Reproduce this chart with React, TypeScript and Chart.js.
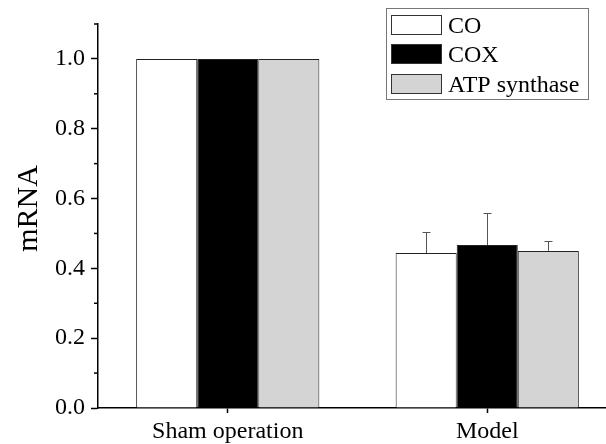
import React, { useEffect, useRef } from "react";
import { Chart, registerables } from "chart.js";

Chart.register(...registerables);

const categories = ["Sham operation", "Model"];
const seriesNames = ["CO", "COX", "ATP synthase"];
const seriesColors = ["#ffffff", "#000000", "#d4d4d4"];
const coValues = [1.0, 0.444];
const coxValues = [1.0, 0.467];
const atpValues = [1.0, 0.45];
const coErrors = [0, 0.06];
const coxErrors = [0, 0.092];
const atpErrors = [0, 0.028];
const yMin = 0;
const yMax = 1.1;
const yStep = 0.1;
const yTitle = "mRNA";

const FONT = "'Liberation Serif', 'Times New Roman', serif";

const errorBarPlugin = {
  id: "errorBars",
  afterDatasetsDraw(chart: any) {
    const ctx = chart.ctx;
    const yScale = chart.scales.y;
    chart.data.datasets.forEach((ds: any, i: number) => {
      const meta = chart.getDatasetMeta(i);
      const errs: number[] = ds.errors || [];
      meta.data.forEach((el: any, j: number) => {
        const e = errs[j];
        if (!e) return;
        const v = ds.data[j];
        const yTop = yScale.getPixelForValue(v + e);
        const yBase = yScale.getPixelForValue(v);
        const x = Math.round(el.x) + 0.5;
        const yt = Math.round(yTop) + 0.5;
        ctx.save();
        ctx.strokeStyle = "#555";
        ctx.lineWidth = 1;
        ctx.beginPath();
        ctx.moveTo(x, yBase);
        ctx.lineTo(x, yt);
        ctx.moveTo(x - 4, yt);
        ctx.lineTo(x + 4, yt);
        ctx.stroke();
        ctx.restore();
      });
    });
  },
};

const minorTickPlugin = {
  id: "minorTicks",
  afterDraw(chart: any) {
    const ctx = chart.ctx;
    const y = chart.scales.y;
    const left = chart.chartArea.left;
    ctx.save();
    ctx.strokeStyle = "#000";
    ctx.lineWidth = 1.5;
    y.ticks.forEach((t: any) => {
      const idx = Math.round(t.value / yStep);
      if (idx % 2 === 1) {
        const py = y.getPixelForValue(t.value);
        ctx.beginPath();
        ctx.moveTo(left - 4, py);
        ctx.lineTo(left, py);
        ctx.stroke();
      }
    });
    // y-axis title
    ctx.fillStyle = "#000";
    ctx.font = `30px ${FONT}`;
    ctx.textAlign = "center";
    ctx.textBaseline = "alphabetic";
    ctx.translate(37, 208.5);
    ctx.rotate(-Math.PI / 2);
    ctx.fillText(yTitle, 0, 0);
    ctx.restore();
  },
};

const legendPlugin = {
  id: "boxLegend",
  afterDraw(chart: any) {
    const ctx = chart.ctx;
    const bx = 386, by = 8, bw = 202, bh = 91;
    ctx.save();
    ctx.fillStyle = "#fff";
    ctx.fillRect(bx, by, bw, bh);
    ctx.strokeStyle = "#777";
    ctx.lineWidth = 1;
    ctx.strokeRect(bx + 0.5, by + 0.5, bw, bh);
    const rows = [25, 54, 84];
    chart.data.datasets.forEach((ds: any, i: number) => {
      const cy = rows[i];
      ctx.fillStyle = ds.backgroundColor;
      ctx.fillRect(391, cy - 10, 51, 20);
      ctx.strokeStyle = "#333";
      ctx.lineWidth = 1;
      ctx.strokeRect(391.5, cy - 9.5, 50, 19);
      ctx.fillStyle = "#000";
      ctx.font = `24px ${FONT}`;
      ctx.textBaseline = "alphabetic";
      ctx.textAlign = "left";
      ctx.fillText(ds.label, 448, cy + 7.5);
    });
    ctx.restore();
  },
};

export default function App() {
  const ref = useRef<HTMLCanvasElement>(null);
  useEffect(() => {
    const valueSets = [coValues, coxValues, atpValues];
    const errorSets = [coErrors, coxErrors, atpErrors];
    const chart = new Chart(ref.current!, {
      type: "bar",
      data: {
        labels: categories,
        datasets: seriesNames.map((name, i) => ({
          label: name,
          data: valueSets[i],
          errors: errorSets[i],
          backgroundColor: seriesColors[i],
          borderColor: "#222",
          borderWidth: 1,
          barPercentage: 1,
          categoryPercentage: 0.706,
        })) as any,
      },
      options: {
        animation: false,
        responsive: false,
        devicePixelRatio: 1,
        layout: { padding: { top: 24, right: 3, left: 0, bottom: 0 } },
        plugins: { legend: { display: false }, tooltip: { enabled: false } },
        scales: {
          x: {
            type: "category",
            grid: {
              display: true,
              drawOnChartArea: false,
              drawTicks: true,
              tickLength: 5,
              offset: false,
              tickColor: "#000",
              tickWidth: 1.5,
            },
            border: { display: true, color: "#000", width: 1.5 },
            ticks: { font: { family: FONT, size: 24 }, color: "#000", padding: 4 },
            afterFit: (s: any) => {
              s.height = 36;
            },
          },
          y: {
            min: yMin,
            max: yMax,
            ticks: {
              stepSize: yStep,
              autoSkip: false,
              font: { family: FONT, size: 24 },
              color: "#000",
              padding: 6,
              callback: (v: any) => {
                const idx = Math.round(Number(v) / yStep);
                return idx % 2 === 0 ? (idx * yStep).toFixed(1) : "";
              },
            },
            grid: {
              drawOnChartArea: false,
              tickLength: 7,
              tickWidth: 1.5,
              tickColor: (c: any) =>
                c.tick && Math.round(c.tick.value / yStep) % 2 === 0 ? "#000" : "rgba(0,0,0,0)",
            },
            border: { display: true, color: "#000", width: 1.5 },
            title: { display: false },
            afterFit: (s: any) => {
              s.width = 98;
            },
          },
        },
      } as any,
      plugins: [errorBarPlugin, minorTickPlugin, legendPlugin],
    });
    return () => chart.destroy();
  }, []);
  return (
    <div
      style={{
        position: "fixed",
        left: 0,
        top: 0,
        width: 606,
        height: 444,
        overflow: "hidden",
        background: "#fff",
      }}
    >
      <canvas ref={ref} width={620} height={444} style={{ display: "block", width: 620, height: 444 }} />
    </div>
  );
}
